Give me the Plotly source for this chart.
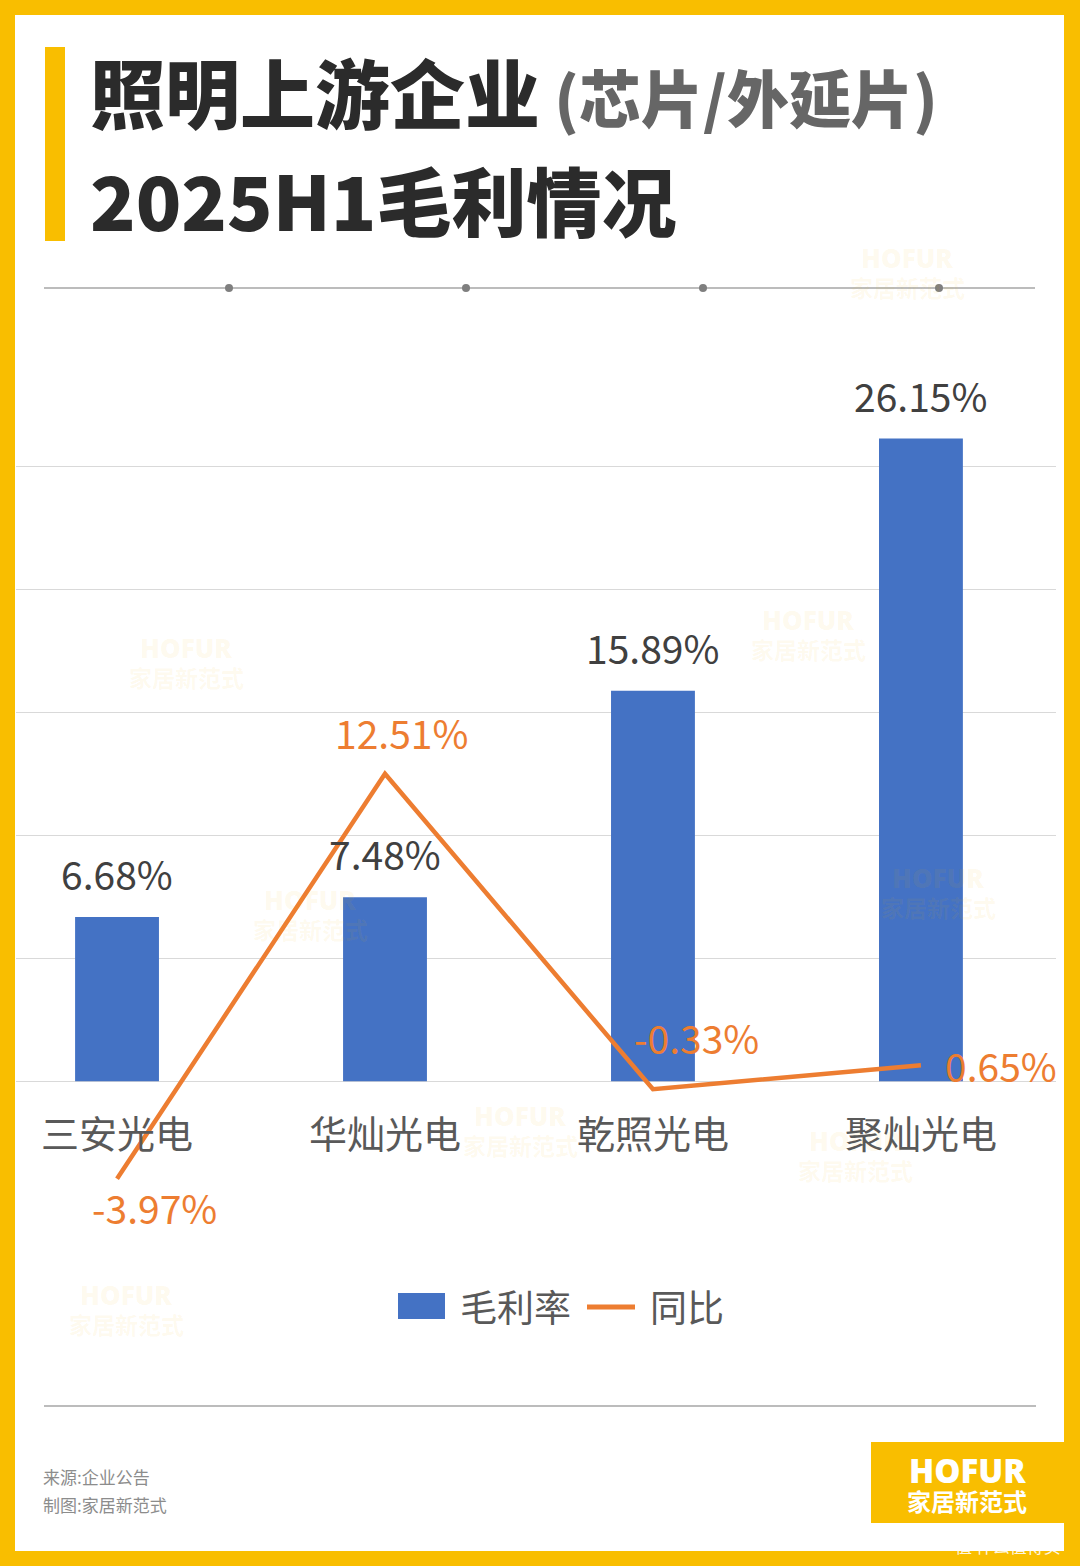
import plotly.graph_objects as go

# ---------------- data ----------------
categories = ["三安光电", "华灿光电", "乾照光电", "聚灿光电"]
gross_margin = [6.68, 7.48, 15.89, 26.15]      # 毛利率 (%)
yoy_change = [-3.97, 12.51, -0.33, 0.65]        # 同比 (%)
grid_ticks = [0, 5, 10, 15, 20, 25]

# label offsets for the 同比 labels (pixels) - style only
yoy_shift = [(37, -28), (16, 42), (44, 52), (80, 0)]

W, H = 1080, 1566
ML, MR, MT, MB = 16, 24, 344, 362
PW, PH = W - ML - MR, H - MT - MB

def px(x):
    return (x - ML) / PW

def py(y):
    return (H - MB - y) / PH

YELLOW = "#F9BE00"
BLUE = "#4472C4"
ORANGE = "#ED7D31"
CJK = "Noto Sans CJK SC"

fig = go.Figure()
fig.add_trace(go.Bar(
    x=categories, y=gross_margin, name="毛利率",
    marker=dict(color=BLUE, line=dict(width=0)), width=0.313,
    hoverinfo="skip"))
fig.add_trace(go.Scatter(
    x=categories, y=yoy_change, name="同比", mode="lines",
    line=dict(color=ORANGE, width=4.5), hoverinfo="skip"))

shapes = []
ann = []

# white card over yellow frame
shapes.append(dict(type="rect", xref="paper", yref="paper", layer="below",
                   x0=px(15), x1=px(1064), y0=py(1551), y1=py(15),
                   fillcolor="white", line=dict(width=0)))
# title accent bar
shapes.append(dict(type="rect", xref="paper", yref="paper",
                   x0=px(45), x1=px(65), y0=py(241), y1=py(47),
                   fillcolor=YELLOW, line=dict(width=0)))
# separators
shapes.append(dict(type="line", xref="paper", yref="paper",
                   x0=px(44), x1=px(1035), y0=py(288), y1=py(288),
                   line=dict(color="#A6A6A6", width=1.5)))
for cx in [229, 466, 703, 939]:
    shapes.append(dict(type="circle", xref="paper", yref="paper",
                       x0=px(cx - 4), x1=px(cx + 4), y0=py(292), y1=py(284),
                       fillcolor="#7F7F7F", line=dict(width=0)))
shapes.append(dict(type="line", xref="paper", yref="paper",
                   x0=px(44), x1=px(1036), y0=py(1406), y1=py(1406),
                   line=dict(color="#A6A6A6", width=1.5)))
# logo box
shapes.append(dict(type="rect", xref="paper", yref="paper",
                   x0=px(871), x1=px(1064), y0=py(1523), y1=py(1442),
                   fillcolor=YELLOW, line=dict(width=0)))
# legend symbols
shapes.append(dict(type="rect", xref="paper", yref="paper",
                   x0=px(398), x1=px(445), y0=py(1319), y1=py(1293),
                   fillcolor=BLUE, line=dict(width=0)))
shapes.append(dict(type="line", xref="paper", yref="paper",
                   x0=px(587), x1=px(635), y0=py(1307), y1=py(1307),
                   line=dict(color=ORANGE, width=5)))

# faint watermarks
wm = [(907, 258), (186, 648), (808, 620), (310, 900), (938, 878),
      (520, 1116), (855, 1141), (126, 1295)]
for wx, wy in wm:
    ann.append(dict(xref="paper", yref="paper", x=px(wx), y=py(wy),
                    text="HOFUR", showarrow=False, xanchor="center", yanchor="middle",
                    font=dict(family="Noto Sans", size=26, weight=900,
                              color="rgba(249,190,0,0.08)")))
    ann.append(dict(xref="paper", yref="paper", x=px(wx), y=py(wy + 29),
                    text="家居新范式", showarrow=False, xanchor="center", yanchor="middle",
                    font=dict(family=CJK, size=23, weight=700,
                              color="rgba(249,190,0,0.08)")))

# title
ann.append(dict(xref="paper", yref="paper", x=px(88), y=py(91),
                text="照明上游企业<span style='font-size:62px;color:#666666'> (芯片/外延片)</span>",
                showarrow=False, xanchor="left", yanchor="middle",
                font=dict(family=CJK, size=75, weight=900, color="#2B2B2B")))
ann.append(dict(xref="paper", yref="paper", x=px(88), y=py(199),
                text="2025H1毛利情况", showarrow=False, xanchor="left", yanchor="middle",
                font=dict(family=CJK, size=75, weight=900, color="#2B2B2B")))

# bar value labels
for c, v in zip(categories, gross_margin):
    ann.append(dict(xref="x", yref="y", x=c, y=v, text=f"{v:.2f}%",
                    showarrow=False, xanchor="center", yanchor="middle", yshift=44,
                    font=dict(family=CJK, size=39, color="#404040")))
# yoy labels
for c, v, (sx, sy) in zip(categories, yoy_change, yoy_shift):
    ann.append(dict(xref="x", yref="y", x=c, y=v, text=f"{v:.2f}%",
                    showarrow=False, xanchor="center", yanchor="middle",
                    xshift=sx, yshift=sy,
                    font=dict(family=CJK, size=39, color=ORANGE)))
# category labels
for c in categories:
    ann.append(dict(xref="x", yref="y", x=c, y=0, text=c, showarrow=False,
                    xanchor="center", yanchor="middle", yshift=-50,
                    font=dict(family=CJK, size=38, color="#595959")))

# legend text
ann.append(dict(xref="paper", yref="paper", x=px(458), y=py(1306), text="毛利率",
                showarrow=False, xanchor="left", yanchor="middle",
                font=dict(family=CJK, size=37, color="#595959")))
ann.append(dict(xref="paper", yref="paper", x=px(648), y=py(1306), text="同比",
                showarrow=False, xanchor="left", yanchor="middle",
                font=dict(family=CJK, size=37, color="#595959")))

# footer
ann.append(dict(xref="paper", yref="paper", x=px(41), y=py(1476), text="来源:企业公告",
                showarrow=False, xanchor="left", yanchor="middle",
                font=dict(family=CJK, size=17, color="#8C8C8C")))
ann.append(dict(xref="paper", yref="paper", x=px(41), y=py(1504), text="制图:家居新范式",
                showarrow=False, xanchor="left", yanchor="middle",
                font=dict(family=CJK, size=17, color="#8C8C8C")))
# logo text
ann.append(dict(xref="paper", yref="paper", x=px(967), y=py(1470), text="HOFUR",
                showarrow=False, xanchor="center", yanchor="middle",
                font=dict(family="Noto Sans", size=33, weight=900, color="white")))
ann.append(dict(xref="paper", yref="paper", x=px(967), y=py(1500), text="家居新范式",
                showarrow=False, xanchor="center", yanchor="middle",
                font=dict(family=CJK, size=24, weight=700, color="white")))
# site watermark
ann.append(dict(xref="paper", yref="paper", x=px(1008), y=py(1545), text="值 什么值得买",
                showarrow=False, xanchor="center", yanchor="middle",
                font=dict(family=CJK, size=17, color="rgba(255,255,255,0.9)")))

fig.update_layout(
    width=W, height=H,
    margin=dict(l=ML, r=MR, t=MT, b=MB, pad=0),
    paper_bgcolor=YELLOW, plot_bgcolor="white",
    showlegend=False, shapes=shapes, annotations=ann,
    font=dict(family=CJK),
    xaxis=dict(type="category", range=[-0.377, 3.504], showticklabels=False,
               showgrid=False, zeroline=False, showline=False, fixedrange=True),
    yaxis=dict(range=[-5, 30], tickvals=grid_ticks, showticklabels=False,
               showgrid=True, gridcolor="#D9D9D9", gridwidth=1,
               zeroline=False, showline=False, fixedrange=True),
)

fig.write_html("out.html", config={"displayModeBar": False},
               post_script="document.body.style.margin='0';document.body.style.overflow='hidden';")
